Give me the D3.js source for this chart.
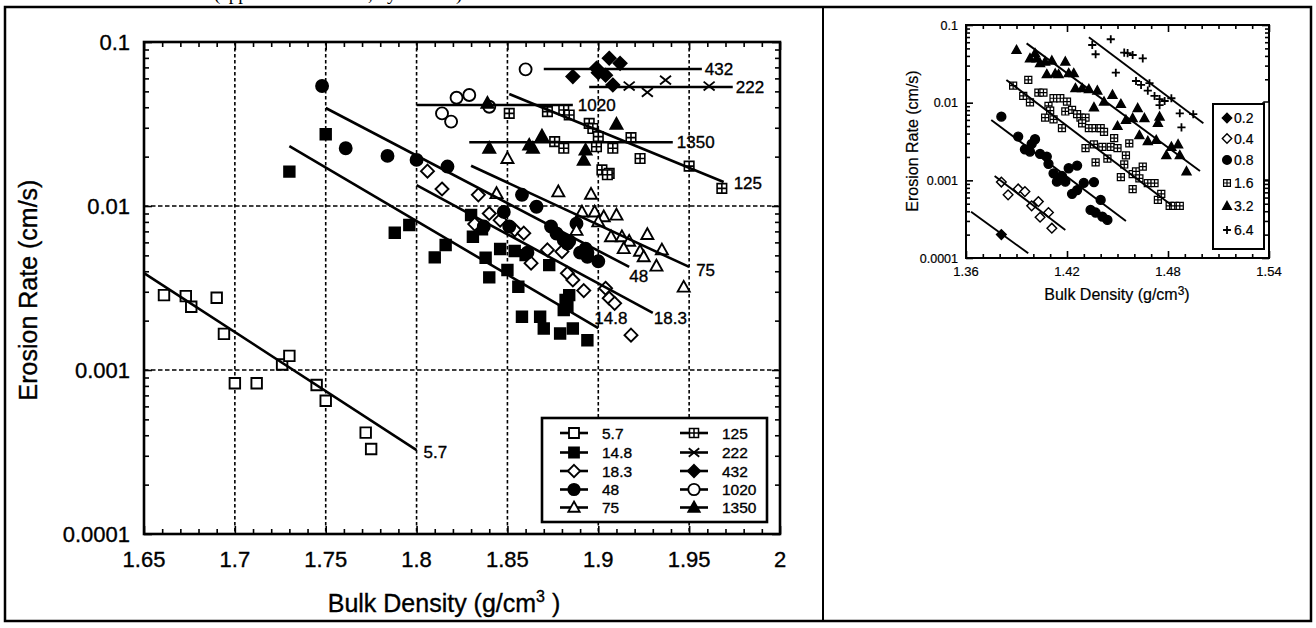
<!DOCTYPE html>
<html>
<head>
<meta charset="utf-8">
<script src="https://cdn.jsdelivr.net/npm/d3@7"></script>
<style>
body { margin: 0; background: #fff; }
text { font-family: "Liberation Sans", Arial, Helvetica, sans-serif; fill: #000; stroke: #000; stroke-width: 0.35px; }
</style>
</head>
<body>
<script>
// ---- main panel data (bulk density g/cm3, erosion rate cm/s) ----
var mainNames = ["5.7", "14.8", "18.3", "48", "75", "125", "222", "432", "1020", "1350"];

var pts5_7 = [[1.661,0.00286],[1.673,0.00282],[1.676,0.00243],[1.690,0.00276],[1.694,0.00166],[1.700,0.00083],
  [1.712,0.00083],[1.726,0.00108],[1.730,0.00122],[1.745,0.00081],[1.750,0.00065],[1.772,0.000415],[1.775,0.00033]];
var pts14_8 = [[1.730,0.0162],[1.750,0.0274],[1.788,0.00687],[1.796,0.00766],[1.810,0.00486],[1.816,0.00578],
  [1.830,0.00881],[1.831,0.0065],[1.836,0.00721],[1.838,0.00484],[1.840,0.00367],[1.846,0.00547],[1.850,0.00407],
  [1.854,0.00532],[1.856,0.00322],[1.860,0.00502],[1.873,0.00436],[1.858,0.00211],[1.868,0.00211],[1.870,0.00179],
  [1.879,0.00167],[1.886,0.00179],[1.894,0.00152],[1.882,0.00267],[1.883,0.00243],[1.881,0.00232],[1.884,0.00286]];
var pts18_3 = [[1.806,0.0163],[1.814,0.0127],[1.834,0.0117],[1.840,0.0090],[1.832,0.00776],[1.846,0.0082],
  [1.854,0.00714],[1.859,0.00683],[1.863,0.00448],[1.872,0.0054],[1.880,0.00527],[1.883,0.00389],[1.886,0.00354],
  [1.892,0.00305],[1.904,0.00315],[1.906,0.00274],[1.909,0.00255],[1.918,0.00163]];
var pts48 = [[1.748,0.0539],[1.761,0.0225],[1.784,0.0202],[1.800,0.0191],[1.817,0.0174],[1.858,0.0117],[1.866,0.0099],
  [1.848,0.0092],[1.837,0.0075],[1.851,0.0075],[1.874,0.0075],[1.877,0.0068],[1.881,0.0062],[1.884,0.0061],
  [1.888,0.0078],[1.890,0.0052],[1.894,0.0052],[1.900,0.0046],[1.861,0.0052],[1.883,0.0059],[1.893,0.0055],[1.894,0.0049]];
var pts75 = [[1.844,0.0119],[1.878,0.0122],[1.896,0.0118],[1.891,0.0092],[1.898,0.0092],[1.903,0.0086],[1.910,0.0088],
  [1.900,0.0080],[1.907,0.0065],[1.913,0.0065],[1.917,0.0061],[1.927,0.0067],[1.923,0.0053],[1.925,0.0049],
  [1.935,0.0054],[1.932,0.0043],[1.947,0.0032],[1.850,0.0195],[1.888,0.0071],[1.914,0.0055]];
var pts125 = [[1.851,0.0367],[1.872,0.0376],[1.881,0.0385],[1.884,0.0359],[1.895,0.0319],[1.897,0.0297],[1.900,0.0265],
  [1.876,0.0247],[1.881,0.0225],[1.899,0.0230],[1.908,0.0225],[1.902,0.0166],[1.906,0.0158],[1.918,0.0261],
  [1.923,0.0195],[1.950,0.0175],[1.968,0.0128],[1.905,0.0155]];
var pts222 = [[1.917,0.0539],[1.927,0.0493],[1.937,0.0586],[1.961,0.0539]];
var pts432 = [[1.886,0.0615],[1.899,0.0692],[1.906,0.0796],[1.912,0.0741],[1.904,0.0627],[1.908,0.0547],[1.900,0.065]];
var pts1020 = [[1.860,0.0681],[1.822,0.0457],[1.829,0.0475],[1.814,0.0367],[1.819,0.0327],[1.840,0.0403]];
var pts1350 = [[1.840,0.0225],[1.862,0.0235],[1.864,0.0225],[1.869,0.0267],[1.893,0.0219],[1.892,0.0190],
  [1.910,0.0315],[1.839,0.0423]];

// fitted lines, [start, end]
var fit5_7 = [[1.65,0.0039],[1.80,0.000325]];
var fit14_8 = [[1.73,0.0232],[1.90,0.0018]];
var fit18_3 = [[1.80,0.0134],[1.93,0.00223]];
var fit48 = [[1.75,0.0396],[1.917,0.00425]];
var fit75 = [[1.83,0.0176],[1.95,0.00425]];
var fit125 = [[1.851,0.0482],[1.969,0.014]];
var fit222 = [[1.895,0.0532],[1.974,0.0532]];
var fit432 = [[1.87,0.0684],[1.957,0.0684]];
var fit1020 = [[1.80,0.0413],[1.886,0.0413]];
var fit1350 = [[1.829,0.0245],[1.941,0.0245]];

var xTickLabels = [1.65, 1.7, 1.75, 1.8, 1.85, 1.9, 1.95, 2];
var yTickLabels = [0.1, 0.01, 0.001, 0.0001];

// ---- inset data ----
var insetNames = ["0.2", "0.4", "0.8", "1.6", "3.2", "6.4"];
var ipts0_2 = [[1.381,0.0002]];
var ipts0_4 = [[1.381,0.00095],[1.385,0.00065],[1.391,0.000775],[1.395,0.000716],[1.399,0.000469],[1.403,0.000532],
  [1.404,0.000335],[1.409,0.000385],[1.411,0.000242]];
var ipts0_8 = [[1.381,0.0066],[1.391,0.00366],[1.395,0.00251],[1.401,0.00338],[1.399,0.00294],[1.398,0.00234],
  [1.404,0.00219],[1.408,0.00202],[1.409,0.00163],[1.412,0.00123],[1.414,0.00096],[1.417,0.00114],[1.419,0.00096],
  [1.421,0.00143],[1.426,0.00155],[1.423,0.00067],[1.426,0.00075],[1.430,0.00093],[1.436,0.00095],[1.440,0.00056],
  [1.434,0.000416],[1.437,0.000385],[1.441,0.000341],[1.444,0.000309]];
var ipts1_6 = [[1.388,0.0166],[1.397,0.0196],[1.394,0.0122],[1.398,0.0101],[1.403,0.0135],[1.406,0.0135],[1.409,0.0091],
  [1.407,0.0064],[1.412,0.0061],[1.410,0.0079],[1.412,0.0114],[1.416,0.0114],[1.420,0.0103],[1.417,0.0047],
  [1.419,0.0077],[1.423,0.0081],[1.426,0.0071],[1.428,0.0064],[1.431,0.0064],[1.429,0.0054],[1.433,0.0047],
  [1.437,0.0047],[1.440,0.0047],[1.442,0.0042],[1.431,0.0026],[1.436,0.0029],[1.441,0.0027],[1.446,0.0027],
  [1.448,0.0035],[1.450,0.0026],[1.457,0.0030],[1.455,0.0021],[1.437,0.0017],[1.444,0.0019],[1.454,0.0016],
  [1.452,0.0011],[1.459,0.0012],[1.459,0.00077],[1.461,0.0013],[1.465,0.0015],[1.463,0.00106],[1.468,0.00092],
  [1.472,0.00092],[1.474,0.00056],[1.476,0.00067],[1.481,0.00047],[1.484,0.00047],[1.487,0.00047]];
var ipts3_2 = [[1.390,0.0476],[1.398,0.0372],[1.401,0.0432],[1.402,0.0372],[1.404,0.0322],[1.407,0.0337],[1.411,0.0347],
  [1.408,0.0232],[1.415,0.0232],[1.413,0.0236],[1.419,0.0337],[1.421,0.0239],[1.424,0.0239],[1.425,0.0153],
  [1.429,0.0153],[1.433,0.0149],[1.438,0.0143],[1.447,0.0126],[1.442,0.0103],[1.436,0.0087],[1.452,0.0096],
  [1.462,0.0085],[1.455,0.0060],[1.459,0.0063],[1.450,0.0050],[1.466,0.0063],[1.475,0.0066],[1.474,0.0055],
  [1.463,0.0038],[1.468,0.0032],[1.473,0.0033],[1.482,0.0027],[1.486,0.0029],[1.479,0.0021],[1.487,0.0021],[1.491,0.0013]];
var ipts6_4 = [[1.446,0.0655],[1.435,0.0553],[1.437,0.042],[1.454,0.044],[1.456,0.0434],[1.459,0.0411],[1.465,0.0372],
  [1.449,0.0243],[1.461,0.019],[1.464,0.0169],[1.469,0.0178],[1.468,0.0143],[1.472,0.0122],[1.475,0.0111],
  [1.475,0.0093],[1.478,0.0105],[1.482,0.0114],[1.487,0.0073],[1.495,0.0071],[1.488,0.0048]];

var ifit0_2 = [[1.363,0.000395],[1.397,0.000115]];
var ifit0_4 = [[1.377,0.00114],[1.419,0.00023]];
var ifit0_8 = [[1.375,0.00598],[1.455,0.0003]];
var ifit1_6 = [[1.384,0.0196],[1.482,0.00048]];
var ifit3_2 = [[1.396,0.058],[1.499,0.00132]];
var ifit6_4 = [[1.433,0.0694],[1.501,0.00543]];

var insetXLabels = [1.36, 1.42, 1.48, 1.54];

// ---- series config ----
var mainSeries = [
  {name: mainNames[0], shape: "square", filled: false, pts: pts5_7, fit: fit5_7, dx: 7, dy: 2},
  {name: mainNames[1], shape: "square", filled: true, pts: pts14_8, fit: fit14_8, dx: -4, dy: -10},
  {name: mainNames[2], shape: "diamond", filled: false, pts: pts18_3, fit: fit18_3, dx: 1, dy: 5},
  {name: mainNames[3], shape: "circle", filled: true, pts: pts48, fit: fit48, dx: 0, dy: 9},
  {name: mainNames[4], shape: "triangle", filled: false, pts: pts75, fit: fit75, dx: 7, dy: 3},
  {name: mainNames[5], shape: "box", filled: false, pts: pts125, fit: fit125, dx: 10, dy: 1},
  {name: mainNames[6], shape: "x", filled: false, pts: pts222, fit: fit222, dx: 3, dy: 0},
  {name: mainNames[7], shape: "diamond", filled: true, pts: pts432, fit: fit432, dx: 3, dy: 0},
  {name: mainNames[8], shape: "circle", filled: false, pts: pts1020, fit: fit1020, dx: 5, dy: 0},
  {name: mainNames[9], shape: "triangle", filled: true, pts: pts1350, fit: fit1350, dx: 4, dy: 0}
];
var insetSeries = [
  {name: insetNames[0], shape: "diamond", filled: true, pts: ipts0_2, fit: ifit0_2},
  {name: insetNames[1], shape: "diamond", filled: false, pts: ipts0_4, fit: ifit0_4},
  {name: insetNames[2], shape: "circle", filled: true, pts: ipts0_8, fit: ifit0_8},
  {name: insetNames[3], shape: "box", filled: false, pts: ipts1_6, fit: ifit1_6},
  {name: insetNames[4], shape: "triangle", filled: true, pts: ipts3_2, fit: ifit3_2},
  {name: insetNames[5], shape: "plus", filled: false, pts: ipts6_4, fit: ifit6_4}
];

var svg = d3.select("body").append("svg").attr("width", 1316).attr("height", 628);

// outer page frame
svg.append("rect").attr("x", 5).attr("y", 7).attr("width", 1306).attr("height", 614)
  .attr("fill", "none").attr("stroke", "#000").attr("stroke-width", 2.5);
svg.append("line").attr("x1", 823).attr("x2", 823).attr("y1", 7).attr("y2", 621)
  .attr("stroke", "#000").attr("stroke-width", 2);
// caption cut off by the scan (only its lower part shows)
svg.append("text").attr("x", 214).attr("y", 0)
  .style("font-family", "'Liberation Serif', 'Times New Roman', serif").style("font-size", "19px")
  .style("stroke-width", "0px")
  .text("(applied shear stress, dynes/cm²)");

function markerPath(shape, s) {
  var p = d3.path(), h = s / 2;
  if (shape == "square" || shape == "box") {
    p.rect(-h, -h, s, s);
    if (shape == "box") { p.moveTo(0, -h); p.lineTo(0, h); p.moveTo(-h, 0); p.lineTo(h, 0); }
  } else if (shape == "diamond") {
    p.moveTo(0, -h); p.lineTo(h, 0); p.lineTo(0, h); p.lineTo(-h, 0); p.closePath();
  } else if (shape == "triangle") {
    p.moveTo(0, -h * 1.05); p.lineTo(h, h * 0.75); p.lineTo(-h, h * 0.75); p.closePath();
  } else if (shape == "circle") {
    p.moveTo(h, 0); p.arc(0, 0, h, 0, 2 * Math.PI);
  } else if (shape == "x") {
    p.moveTo(-h, -h * 0.8); p.lineTo(h, h * 0.8); p.moveTo(h, -h * 0.8); p.lineTo(-h, h * 0.8);
  } else if (shape == "plus") {
    p.moveTo(-h, 0); p.lineTo(h, 0); p.moveTo(0, -h); p.lineTo(0, h);
  }
  return p.toString();
}

var sizes = {square: 10.5, box: 9.5, diamond: 13, triangle: 12, circle: 12, x: 11, plus: 11};

function drawMarker(g, s, scale) {
  var sz = sizes[s.shape] * scale;
  var w = s.shape == "box" ? 1.4 * scale + 0.2 : (s.shape == "plus" ? 1.8 : 1.8 * scale + 0.1);
  g.attr("d", markerPath(s.shape, sz))
    .attr("fill", s.filled ? "#000" : (s.shape == "x" || s.shape == "plus" ? "none" : "#fff"))
    .attr("stroke", "#000")
    .attr("stroke-width", w);
}

function isDecade(d) { return Math.abs(Math.log10(d) - Math.round(Math.log10(d))) < 1e-6; }

function drawFrame(xs, ys, minorX, isMajorX, minorLen, majorLen, sw) {
  var xr = xs.range(), yr = ys.range();
  var lenX = function(d) { return isMajorX(d) ? majorLen : minorLen; };
  var lenY = function(d) { return isDecade(d) ? majorLen : minorLen; };
  var gb = svg.append("g").attr("transform", "translate(0," + yr[0] + ")")
    .call(d3.axisBottom(xs).tickValues(minorX).tickFormat(""));
  gb.selectAll(".tick line").attr("y2", function(d) { return -lenX(d); });
  var gt = svg.append("g").attr("transform", "translate(0," + yr[1] + ")")
    .call(d3.axisTop(xs).tickValues(minorX).tickFormat(""));
  gt.selectAll(".tick line").attr("y2", function(d) { return lenX(d); });
  var gl = svg.append("g").attr("transform", "translate(" + xr[0] + ",0)")
    .call(d3.axisLeft(ys).tickValues(ys.ticks()).tickFormat(""));
  gl.selectAll(".tick line").attr("x2", function(d) { return lenY(d); });
  var gr = svg.append("g").attr("transform", "translate(" + xr[1] + ",0)")
    .call(d3.axisRight(ys).tickValues(ys.ticks()).tickFormat(""));
  gr.selectAll(".tick line").attr("x2", function(d) { return -lenY(d); });
  [gb, gt, gl, gr].forEach(function(g) {
    g.select(".domain").remove();
    g.selectAll(".tick line").attr("stroke-width", 1.6);
  });
  svg.append("rect").attr("x", xr[0]).attr("y", yr[1]).attr("width", xr[1] - xr[0]).attr("height", yr[0] - yr[1])
    .attr("fill", "none").attr("stroke", "#000").attr("stroke-width", sw);
}

// ================= main panel =================
var x = d3.scaleLinear().domain([1.65, 2]).range([144, 780]);
var y = d3.scaleLog().domain([0.0001, 0.1]).range([534, 42]);

// dotted grid
svg.append("g").selectAll("line").data(xTickLabels.slice(1, -1)).enter().append("line")
  .attr("x1", function(d) { return x(d); }).attr("x2", function(d) { return x(d); })
  .attr("y1", y.range()[1]).attr("y2", y.range()[0])
  .attr("stroke", "#000").attr("stroke-width", 1.6).attr("stroke-dasharray", "3.5,2.5");
svg.append("g").selectAll("line").data([0.01, 0.001]).enter().append("line")
  .attr("x1", x.range()[0]).attr("x2", x.range()[1])
  .attr("y1", function(d) { return y(d); }).attr("y2", function(d) { return y(d); })
  .attr("stroke", "#000").attr("stroke-width", 1.6).attr("stroke-dasharray", "4.5,2.5");

var mainMinor = d3.range(0, 36).map(function(i) { return +(1.65 + i * 0.01).toFixed(2); });
drawFrame(x, y, mainMinor, function(d) { return Math.round(d * 100) % 5 == 0; }, 5, 8, 2.6);

// markers, then fitted lines on top
mainSeries.forEach(function(s) {
  svg.append("g").selectAll("path").data(s.pts).enter().append("path")
    .attr("transform", function(d) { return "translate(" + x(d[0]) + "," + y(d[1]) + ")"; })
    .each(function() { drawMarker(d3.select(this), s, 1); });
});
var mainLine = d3.line().x(function(d) { return x(d[0]); }).y(function(d) { return y(d[1]); });
mainSeries.forEach(function(s) {
  svg.append("path").datum(s.fit).attr("d", mainLine)
    .attr("fill", "none").attr("stroke", "#000").attr("stroke-width", 2.6);
  var end = s.fit[1];
  svg.append("text").attr("x", x(end[0]) + s.dx).attr("y", y(end[1]) + s.dy + 6)
    .style("font-size", "17px").text(s.name);
});

// tick labels
svg.append("g").selectAll("text").data(xTickLabels).enter().append("text")
  .attr("x", function(d) { return x(d); }).attr("y", 567)
  .attr("text-anchor", "middle").style("font-size", "22px").text(function(d) { return d; });
svg.append("g").selectAll("text").data(yTickLabels).enter().append("text")
  .attr("x", 130).attr("y", function(d) { return y(d) + 8; })
  .attr("text-anchor", "end").style("font-size", "22px").text(function(d) { return d; });

// axis titles
svg.append("text").attr("transform", "translate(37,290) rotate(-90)")
  .attr("text-anchor", "middle").style("font-size", "25px").text("Erosion Rate (cm/s)");
var xt = svg.append("text").attr("x", 444).attr("y", 612).attr("text-anchor", "middle").style("font-size", "25px");
xt.append("tspan").text("Bulk Density (g/cm");
xt.append("tspan").attr("dy", -10).style("font-size", "16px").text("3");
xt.append("tspan").attr("dy", 10).text(" )");

// legend
svg.append("rect").attr("x", 542).attr("y", 418).attr("width", 225).attr("height", 104)
  .attr("fill", "#fff").attr("stroke", "#000").attr("stroke-width", 2.6);
var legRows = [433, 452.5, 471, 489.5, 507.5];
mainSeries.forEach(function(s, i) {
  var lx = i < 5 ? 560 : 680, ly = legRows[i % 5];
  svg.append("line").attr("x1", lx).attr("x2", lx + 28).attr("y1", ly).attr("y2", ly)
    .attr("stroke", "#000").attr("stroke-width", 2.6);
  svg.append("path").attr("transform", "translate(" + (lx + 14) + "," + ly + ")")
    .call(function(g) { drawMarker(g, s, 0.95); });
  svg.append("text").attr("x", lx + 42).attr("y", ly + 5.5).style("font-size", "15.5px").text(s.name);
});

// ================= inset panel =================
var x2 = d3.scaleLinear().domain([1.36, 1.54]).range([966, 1269]);
var y2 = d3.scaleLog().domain([0.0001, 0.1]).range([258, 25]);
var insetMinor = d3.range(0, 19).map(function(i) { return +(1.36 + i * 0.01).toFixed(2); });
drawFrame(x2, y2, insetMinor, function(d) { return Math.round(d * 100) % 6 == 4; }, 4, 7, 2);

insetSeries.forEach(function(s) {
  svg.append("g").selectAll("path").data(s.pts).enter().append("path")
    .attr("transform", function(d) { return "translate(" + x2(d[0]) + "," + y2(d[1]) + ")"; })
    .each(function() { drawMarker(d3.select(this), s, 0.74); });
});
var insetLine = d3.line().x(function(d) { return x2(d[0]); }).y(function(d) { return y2(d[1]); });
insetSeries.forEach(function(s) {
  svg.append("path").datum(s.fit).attr("d", insetLine)
    .attr("fill", "none").attr("stroke", "#000").attr("stroke-width", 1.9);
});

svg.append("g").selectAll("text").data(insetXLabels).enter().append("text")
  .attr("x", function(d) { return x2(d); }).attr("y", 276)
  .attr("text-anchor", "middle").style("font-size", "13px").style("stroke-width", "0.2px")
  .text(function(d) { return d.toFixed(2); });
svg.append("g").selectAll("text").data(yTickLabels).enter().append("text")
  .attr("x", 958).attr("y", function(d) { return y2(d) + 4.5; })
  .attr("text-anchor", "end").style("font-size", "12.5px").style("stroke-width", "0.2px")
  .text(function(d) { return d; });

svg.append("text").attr("transform", "translate(918,141) rotate(-90)")
  .attr("text-anchor", "middle").style("font-size", "16px").style("stroke-width", "0.2px").text("Erosion Rate (cm/s)");
var xt2 = svg.append("text").attr("x", 1117).attr("y", 300).attr("text-anchor", "middle")
  .style("font-size", "16px").style("stroke-width", "0.2px");
xt2.append("tspan").text("Bulk Density (g/cm");
xt2.append("tspan").attr("dy", -5).style("font-size", "12px").text("3");
xt2.append("tspan").attr("dy", 5).text(")");

// inset legend
svg.append("rect").attr("x", 1264).attr("y", 102).attr("width", 5).attr("height", 78)
  .attr("fill", "#fff").attr("stroke", "#000").attr("stroke-width", 1.5);
svg.append("rect").attr("x", 1213).attr("y", 104).attr("width", 51).attr("height", 145)
  .attr("fill", "#fff").attr("stroke", "#000").attr("stroke-width", 2);
var iLegRows = [118, 138.5, 160, 183, 206, 230];
insetSeries.forEach(function(s, i) {
  svg.append("path").attr("transform", "translate(1227," + iLegRows[i] + ")")
    .call(function(g) { drawMarker(g, s, 0.72); });
  svg.append("text").attr("x", 1234).attr("y", iLegRows[i] + 5).style("font-size", "14px")
    .style("stroke-width", "0.2px").text(s.name);
});
</script>
</body>
</html>
